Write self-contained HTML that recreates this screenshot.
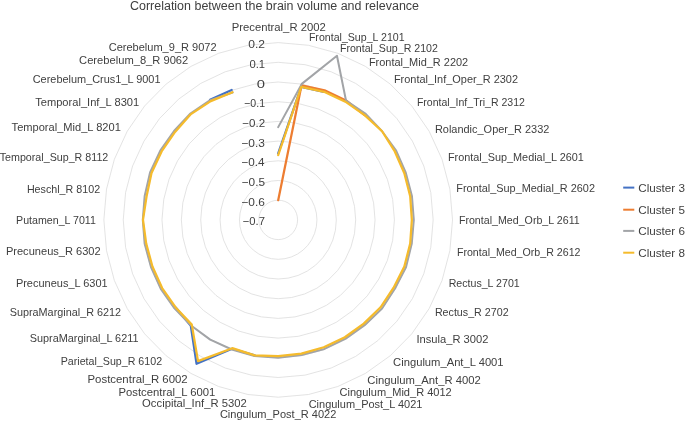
<!DOCTYPE html>
<html><head><meta charset="utf-8"><style>
html,body{margin:0;padding:0;background:#fff;}
body{width:685px;height:421px;overflow:hidden;font-family:"Liberation Sans",sans-serif;}
svg{display:block;will-change:transform;}
</style></head><body>
<svg width="685" height="421" viewBox="0 0 685 421">
<g fill="none" stroke="#D9D9D9" stroke-width="0.75">
<polygon points="278.20,200.20 281.56,200.50 284.82,201.39 287.88,202.84 290.65,204.81 293.04,207.24 294.97,210.05 296.40,213.16 297.28,216.48 297.57,219.90 297.28,223.32 296.40,226.64 294.97,229.75 293.04,232.56 290.65,234.99 287.88,236.96 284.82,238.41 281.56,239.30 278.20,239.60 274.84,239.30 271.58,238.41 268.51,236.96 265.75,234.99 263.36,232.56 261.43,229.75 260.00,226.64 259.12,223.32 258.83,219.90 259.12,216.48 260.00,213.16 261.43,210.05 263.36,207.24 265.75,204.81 268.51,202.84 271.58,201.39 274.84,200.50"/>
<polygon points="278.20,180.50 284.93,181.10 291.45,182.88 297.57,185.78 303.10,189.72 307.88,194.57 311.75,200.20 314.60,206.42 316.35,213.06 316.94,219.90 316.35,226.74 314.60,233.38 311.75,239.60 307.88,245.23 303.10,250.08 297.57,254.02 291.45,256.92 284.93,258.70 278.20,259.30 271.47,258.70 264.95,256.92 258.83,254.02 253.30,250.08 248.52,245.23 244.65,239.60 241.80,233.38 240.05,226.74 239.46,219.90 240.05,213.06 241.80,206.42 244.65,200.20 248.52,194.57 253.30,189.72 258.83,185.78 264.95,182.88 271.47,181.10"/>
<polygon points="278.20,160.80 288.29,161.70 298.07,164.36 307.25,168.72 315.55,174.63 322.71,181.91 328.52,190.35 332.81,199.69 335.43,209.64 336.31,219.90 335.43,230.16 332.81,240.11 328.52,249.45 322.71,257.89 315.55,265.17 307.25,271.08 298.07,275.44 288.29,278.10 278.20,279.00 268.11,278.10 258.33,275.44 249.14,271.08 240.85,265.17 233.69,257.89 227.88,249.45 223.59,240.11 220.97,230.16 220.09,219.90 220.97,209.64 223.59,199.69 227.88,190.35 233.69,181.91 240.85,174.63 249.14,168.72 258.33,164.36 268.11,161.70"/>
<polygon points="278.20,141.10 291.65,142.30 304.70,145.85 316.94,151.66 328.00,159.54 337.55,169.25 345.30,180.50 351.01,192.95 354.50,206.22 355.68,219.90 354.50,233.58 351.01,246.85 345.30,259.30 337.55,270.55 328.00,280.26 316.94,288.14 304.70,293.95 291.65,297.50 278.20,298.70 264.75,297.50 251.70,293.95 239.46,288.14 228.40,280.26 218.85,270.55 211.10,259.30 205.39,246.85 201.90,233.58 200.72,219.90 201.90,206.22 205.39,192.95 211.10,180.50 218.85,169.25 228.40,159.54 239.46,151.66 251.70,145.85 264.75,142.30"/>
<polygon points="278.20,121.40 295.02,122.90 311.32,127.34 326.62,134.60 340.45,144.44 352.39,156.59 362.07,170.65 369.21,186.21 373.58,202.80 375.05,219.90 373.58,237.00 369.21,253.59 362.07,269.15 352.39,283.21 340.45,295.36 326.62,305.20 311.32,312.46 295.02,316.90 278.20,318.40 261.38,316.90 245.08,312.46 229.77,305.20 215.95,295.36 204.01,283.21 194.33,269.15 187.19,253.59 182.82,237.00 181.35,219.90 182.82,202.80 187.19,186.21 194.33,170.65 204.01,156.59 215.95,144.44 229.77,134.60 245.08,127.34 261.38,122.90"/>
<polygon points="278.20,101.70 298.38,103.50 317.95,108.83 336.31,117.54 352.90,129.35 367.23,143.92 378.85,160.80 387.41,179.47 392.65,199.37 394.42,219.90 392.65,240.43 387.41,260.33 378.85,279.00 367.23,295.88 352.90,310.45 336.31,322.26 317.95,330.97 298.38,336.30 278.20,338.10 258.02,336.30 238.45,330.97 220.09,322.26 203.50,310.45 189.17,295.88 177.55,279.00 168.99,260.33 163.75,240.43 161.98,219.90 163.75,199.37 168.99,179.47 177.55,160.80 189.17,143.92 203.50,129.35 220.09,117.54 238.45,108.83 258.02,103.50"/>
<polygon points="278.20,82.00 301.74,84.10 324.57,90.32 346.00,100.48 365.36,114.26 382.07,131.26 395.62,150.95 405.61,172.74 411.73,195.95 413.79,219.90 411.73,243.85 405.61,267.06 395.62,288.85 382.07,308.54 365.36,325.54 346.00,339.32 324.57,349.48 301.74,355.70 278.20,357.80 254.66,355.70 231.83,349.48 210.40,339.32 191.04,325.54 174.33,308.54 160.78,288.85 150.79,267.06 144.67,243.85 142.61,219.90 144.67,195.95 150.79,172.74 160.78,150.95 174.33,131.26 191.04,114.26 210.40,100.48 231.83,90.32 254.66,84.10"/>
<polygon points="278.20,62.30 305.11,64.69 331.20,71.80 355.68,83.41 377.81,99.17 396.91,118.60 412.40,141.10 423.81,166.00 430.81,192.53 433.16,219.90 430.81,247.27 423.81,273.80 412.40,298.70 396.91,321.20 377.81,340.63 355.68,356.39 331.20,368.00 305.11,375.11 278.20,377.50 251.29,375.11 225.20,368.00 200.72,356.39 178.59,340.63 159.49,321.20 144.00,298.70 132.59,273.80 125.59,247.27 123.24,219.90 125.59,192.53 132.59,166.00 144.00,141.10 159.49,118.60 178.59,99.17 200.72,83.41 225.20,71.80 251.29,64.69"/>
<polygon points="278.20,42.60 308.47,45.29 337.82,53.29 365.37,66.35 390.26,84.08 411.74,105.93 429.17,131.25 442.02,159.26 449.88,189.11 452.53,219.90 449.88,250.69 442.02,280.54 429.17,308.55 411.74,333.87 390.26,355.72 365.37,373.45 337.82,386.51 308.47,394.51 278.20,397.20 247.93,394.51 218.58,386.51 191.03,373.45 166.14,355.72 144.66,333.87 127.23,308.55 114.38,280.54 106.52,250.69 103.87,219.90 106.52,189.11 114.38,159.26 127.23,131.25 144.66,105.93 166.14,84.08 191.03,66.35 218.58,53.29 247.93,45.29"/>
</g>
<g fill="none" stroke-width="2.25" stroke-linejoin="round" stroke-linecap="round">
<polyline stroke="#4472C4" points="278.20,153.31 301.27,86.81 324.04,91.80"/>
<polyline stroke="#4472C4" points="254.72,355.32 232.09,348.74 196.56,363.72 190.80,325.84 175.67,307.40"/>
<polyline stroke="#4472C4" points="210.02,99.79 231.69,89.95"/>
<polyline stroke="#ED7D31" points="278.20,200.20 301.54,85.26 324.57,90.32 346.00,100.48 364.61,115.17"/>
<polyline stroke="#A2A4A7" stroke-width="2.0" points="278.20,127.11 301.78,83.90 336.96,55.70 346.00,100.48 365.73,113.81 382.07,131.26 396.13,150.65 405.79,172.67 411.92,195.92 413.79,219.90 411.73,243.85 405.98,267.20 394.95,288.46 382.07,308.54 364.86,324.93 345.61,338.64 324.38,348.93 301.61,354.93 278.20,357.80 254.59,356.09 231.83,349.48 210.21,339.67 191.04,325.54 174.48,308.41 160.78,288.85 150.97,267.00 144.67,243.85 142.80,219.90 144.67,195.95 150.06,172.47 160.27,150.65 174.04,131.01 190.42,113.51 210.21,100.13 232.62,92.54"/>
<polyline stroke="#F5BB2C" points="278.20,155.09 301.27,86.81 324.04,91.80 345.32,101.67 364.61,115.17 382.07,131.26 394.79,151.44 404.34,173.21 410.20,196.23 411.85,219.90 410.20,243.57 404.34,266.59 393.61,287.67 380.58,307.27 363.74,323.58 344.83,337.28 323.78,347.26 301.37,353.57 278.20,356.03 254.72,355.32 232.29,348.19 198.01,361.16 191.79,324.63 175.67,307.40 162.12,288.06 152.43,266.46 146.20,243.57 143.00,219.90 146.58,196.30 151.52,173.00 161.61,151.44 175.07,131.89 190.92,114.11 210.79,101.16 232.49,92.17"/>
</g>
<g font-family="Liberation Sans, sans-serif" font-size="11.5" fill="#404040">
<text x="231.7" y="31.0" textLength="94.1" lengthAdjust="spacingAndGlyphs">Precentral_R 2002</text>
<text x="308.9" y="41.2" textLength="95.7" lengthAdjust="spacingAndGlyphs">Frontal_Sup_L 2101</text>
<text x="339.9" y="51.9" textLength="98.0" lengthAdjust="spacingAndGlyphs">Frontal_Sup_R 2102</text>
<text x="368.9" y="65.9" textLength="99.3" lengthAdjust="spacingAndGlyphs">Frontal_Mid_R 2202</text>
<text x="393.9" y="82.8" textLength="124.1" lengthAdjust="spacingAndGlyphs">Frontal_Inf_Oper_R 2302</text>
<text x="416.9" y="106.0" textLength="108.0" lengthAdjust="spacingAndGlyphs">Frontal_Inf_Tri_R 2312</text>
<text x="434.9" y="132.5" textLength="114.5" lengthAdjust="spacingAndGlyphs">Rolandic_Oper_R 2332</text>
<text x="447.9" y="161.1" textLength="136.0" lengthAdjust="spacingAndGlyphs">Frontal_Sup_Medial_L 2601</text>
<text x="456.3" y="192.0" textLength="138.7" lengthAdjust="spacingAndGlyphs">Frontal_Sup_Medial_R 2602</text>
<text x="458.9" y="223.9" textLength="120.8" lengthAdjust="spacingAndGlyphs">Frontal_Med_Orb_L 2611</text>
<text x="456.9" y="256.3" textLength="123.6" lengthAdjust="spacingAndGlyphs">Frontal_Med_Orb_R 2612</text>
<text x="448.7" y="287.2" textLength="71.0" lengthAdjust="spacingAndGlyphs">Rectus_L 2701</text>
<text x="434.9" y="316.1" textLength="73.7" lengthAdjust="spacingAndGlyphs">Rectus_R 2702</text>
<text x="416.5" y="343.1" textLength="71.9" lengthAdjust="spacingAndGlyphs">Insula_R 3002</text>
<text x="393.1" y="366.2" textLength="110.5" lengthAdjust="spacingAndGlyphs">Cingulum_Ant_L 4001</text>
<text x="367.3" y="383.7" textLength="113.5" lengthAdjust="spacingAndGlyphs">Cingulum_Ant_R 4002</text>
<text x="339.5" y="396.1" textLength="112.2" lengthAdjust="spacingAndGlyphs">Cingulum_Mid_R 4012</text>
<text x="308.7" y="407.6" textLength="113.7" lengthAdjust="spacingAndGlyphs">Cingulum_Post_L 4021</text>
<text x="219.9" y="418.3" textLength="116.5" lengthAdjust="spacingAndGlyphs">Cingulum_Post_R 4022</text>
<text x="142.1" y="406.8" textLength="104.7" lengthAdjust="spacingAndGlyphs">Occipital_Inf_R 5302</text>
<text x="118.5" y="396.0" textLength="96.8" lengthAdjust="spacingAndGlyphs">Postcentral_L 6001</text>
<text x="87.5" y="383.4" textLength="100.2" lengthAdjust="spacingAndGlyphs">Postcentral_R 6002</text>
<text x="60.7" y="365.3" textLength="101.4" lengthAdjust="spacingAndGlyphs">Parietal_Sup_R 6102</text>
<text x="29.7" y="342.4" textLength="108.8" lengthAdjust="spacingAndGlyphs">SupraMarginal_L 6211</text>
<text x="9.7" y="315.7" textLength="111.4" lengthAdjust="spacingAndGlyphs">SupraMarginal_R 6212</text>
<text x="15.9" y="286.8" textLength="91.8" lengthAdjust="spacingAndGlyphs">Precuneus_L 6301</text>
<text x="5.9" y="255.3" textLength="94.8" lengthAdjust="spacingAndGlyphs">Precuneus_R 6302</text>
<text x="16.1" y="224.3" textLength="79.8" lengthAdjust="spacingAndGlyphs">Putamen_L 7011</text>
<text x="26.9" y="192.5" textLength="73.2" lengthAdjust="spacingAndGlyphs">Heschl_R 8102</text>
<text x="-0.3" y="161.1" textLength="108.6" lengthAdjust="spacingAndGlyphs">Temporal_Sup_R 8112</text>
<text x="11.6" y="131.4" textLength="109.2" lengthAdjust="spacingAndGlyphs">Temporal_Mid_L 8201</text>
<text x="35.2" y="105.7" textLength="104.0" lengthAdjust="spacingAndGlyphs">Temporal_Inf_L 8301</text>
<text x="32.7" y="83.1" textLength="127.8" lengthAdjust="spacingAndGlyphs">Cerebelum_Crus1_L 9001</text>
<text x="79.1" y="64.1" textLength="109.2" lengthAdjust="spacingAndGlyphs">Cerebelum_8_R 9062</text>
<text x="108.7" y="50.9" textLength="107.9" lengthAdjust="spacingAndGlyphs">Cerebelum_9_R 9072</text>
<text x="248.31" y="48.1" textLength="16.79" lengthAdjust="spacingAndGlyphs">0.2</text>
<text x="249.45" y="67.8" textLength="15.66" lengthAdjust="spacingAndGlyphs">0.1</text>
<text x="256.74" y="87.5" textLength="8.22" lengthAdjust="spacingAndGlyphs">0</text>
<text x="244.16" y="107.1" textLength="20.87" lengthAdjust="spacingAndGlyphs">−0.1</text>
<text x="242.33" y="126.8" textLength="22.84" lengthAdjust="spacingAndGlyphs">−0.2</text>
<text x="241.40" y="146.5" textLength="23.51" lengthAdjust="spacingAndGlyphs">−0.3</text>
<text x="241.40" y="166.2" textLength="23.11" lengthAdjust="spacingAndGlyphs">−0.4</text>
<text x="241.68" y="185.9" textLength="23.3" lengthAdjust="spacingAndGlyphs">−0.5</text>
<text x="241.40" y="205.5" textLength="23.51" lengthAdjust="spacingAndGlyphs">−0.6</text>
<text x="242.70" y="225.2" textLength="22.26" lengthAdjust="spacingAndGlyphs">−0.7</text>
</g>
<text x="130.0" y="10.1" font-family="Liberation Sans, sans-serif" font-size="12" fill="#404040" textLength="289.0" lengthAdjust="spacingAndGlyphs">Correlation between the brain volume and relevance</text>
<line x1="623.2" x2="634.3" y1="187.6" y2="187.6" stroke="#4472C4" stroke-width="2"/>
<text x="638.2" y="191.8" font-family="Liberation Sans, sans-serif" font-size="11.5" fill="#404040" textLength="46.8" lengthAdjust="spacingAndGlyphs">Cluster 3</text>
<line x1="623.2" x2="634.3" y1="209.7" y2="209.7" stroke="#ED7D31" stroke-width="2"/>
<text x="638.2" y="213.9" font-family="Liberation Sans, sans-serif" font-size="11.5" fill="#404040" textLength="46.8" lengthAdjust="spacingAndGlyphs">Cluster 5</text>
<line x1="623.2" x2="634.3" y1="230.9" y2="230.9" stroke="#A2A4A7" stroke-width="2"/>
<text x="638.2" y="235.1" font-family="Liberation Sans, sans-serif" font-size="11.5" fill="#404040" textLength="46.8" lengthAdjust="spacingAndGlyphs">Cluster 6</text>
<line x1="623.2" x2="634.3" y1="252.7" y2="252.7" stroke="#F5BB2C" stroke-width="2"/>
<text x="638.2" y="256.9" font-family="Liberation Sans, sans-serif" font-size="11.5" fill="#404040" textLength="46.8" lengthAdjust="spacingAndGlyphs">Cluster 8</text>
</svg>
</body></html>
